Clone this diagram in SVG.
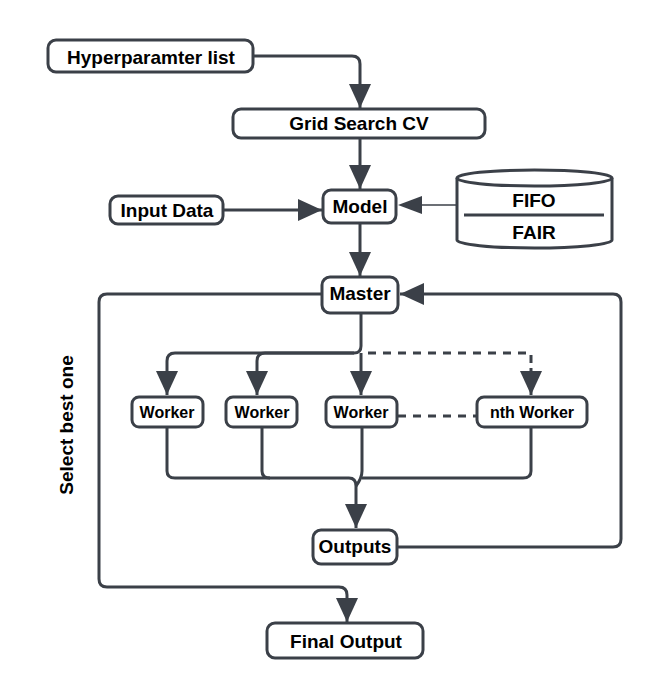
<svg xmlns="http://www.w3.org/2000/svg" width="662" height="692" viewBox="0 0 662 692">
<defs>
<style>
.box{fill:#fff;stroke:#3b4048;stroke-width:3}
.t{font-family:"Liberation Sans",Arial,sans-serif;font-weight:bold;font-size:19px;fill:#000;text-anchor:middle}
.tw{font-size:16px}
.c{fill:none;stroke:#3b4048;stroke-width:3;stroke-linejoin:round}
.d{stroke-dasharray:8 7}
.thin{stroke-width:1.5}
</style>
<marker id="a" viewBox="0 0 24 24" refX="24" refY="12" markerWidth="24" markerHeight="24" markerUnits="userSpaceOnUse" orient="auto"><path d="M0,1 L24,12 L0,23 z" fill="#3b4048"/></marker>
</defs>
<rect width="662" height="692" fill="#fff"/>
<g id="connectors">
<path class="c" d="M253,56 H352 Q360,56 360,64 V108" marker-end="url(#a)"/>
<path class="c" d="M360,138 V189" marker-end="url(#a)"/>
<path class="c" d="M223,210 H322" marker-end="url(#a)"/>
<path class="c thin" d="M457,205 H422"/>
<path d="M398,205 L422,196 L422,214 z" fill="#3b4048"/>
<path class="c" d="M360,223 V276" marker-end="url(#a)"/>
<path class="c" d="M322,294 H107 Q99,294 99,302 V579 Q99,587 107,587 H339 Q347,587 347,595 V622" marker-end="url(#a)"/>
<path class="c" d="M397,547 H613 Q621,547 621,539 V302 Q621,294 613,294 H400" marker-end="url(#a)"/>
<path class="c" d="M361,312 V346 Q361,353 354,353 H175 Q167,353 167,361 V395" marker-end="url(#a)"/>
<path class="c" d="M354,353 H265 Q257,353 257,361 V395" marker-end="url(#a)"/>
<path class="c" d="M361,353 V395" marker-end="url(#a)"/>
<path class="c d" d="M368,353 H531 V368"/>
<path class="c" d="M531,368 V395" marker-end="url(#a)"/>
<path class="c d" d="M398,416 H477"/>
<path class="c" d="M167,427 V471 Q167,478 175,478 H349 Q356,478 356,486 V528" marker-end="url(#a)"/>
<path class="c" d="M262,427 V471 Q262,478 270,478"/>
<path class="c" d="M362,427 V471 Q362,478 356,486"/>
<path class="c" d="M531,427 V471 Q531,478 523,478 H362"/>
</g>
<g id="hyper"><rect class="box" x="48" y="40" width="205" height="32" rx="8"/><text class="t" x="151" y="64">Hyperparamter list</text></g>
<g id="grid"><rect class="box" x="233" y="109" width="252" height="29" rx="8"/><text class="t" x="359" y="130">Grid Search CV</text></g>
<g id="input"><rect class="box" x="110" y="196" width="113" height="28" rx="8"/><text class="t" x="167" y="217">Input Data</text></g>
<g id="model"><rect class="box" x="323" y="190" width="73" height="33" rx="8"/><text class="t" x="360" y="213">Model</text></g>
<g id="store">
<path class="box" d="M457,178 A77.5,8 0 0 1 612,178 V240 A77.5,8 0 0 1 457,240 Z"/>
<path class="c" d="M457,178 A77.5,8 0 0 0 612,178"/>
<line class="c" x1="464" y1="215" x2="604" y2="215"/>
<text class="t" x="534" y="207">FIFO</text>
<text class="t" x="534" y="239">FAIR</text>
</g>
<g id="master"><rect class="box" x="322" y="277" width="76" height="36" rx="8"/><text class="t" x="360" y="300">Master</text></g>
<g id="w1"><rect class="box" x="132" y="397" width="71" height="30" rx="7"/><text class="t tw" x="167" y="418">Worker</text></g>
<g id="w2"><rect class="box" x="226" y="397" width="71" height="30" rx="7"/><text class="t tw" x="262" y="418">Worker</text></g>
<g id="w3"><rect class="box" x="326" y="397" width="71" height="30" rx="7"/><text class="t tw" x="361" y="418">Worker</text></g>
<g id="wn"><rect class="box" x="477" y="397" width="110" height="30" rx="7"/><text class="t tw" x="532" y="418">nth Worker</text></g>
<g id="outputs"><rect class="box" x="313" y="530" width="84" height="34" rx="8"/><text class="t" x="355" y="553">Outputs</text></g>
<g id="final"><rect class="box" x="267" y="623" width="156" height="35" rx="8"/><text class="t" x="346" y="648">Final Output</text></g>
<g id="select"><text class="t" font-size="19.5" transform="translate(73,425) rotate(-90)">Select best one</text></g>
</svg>
